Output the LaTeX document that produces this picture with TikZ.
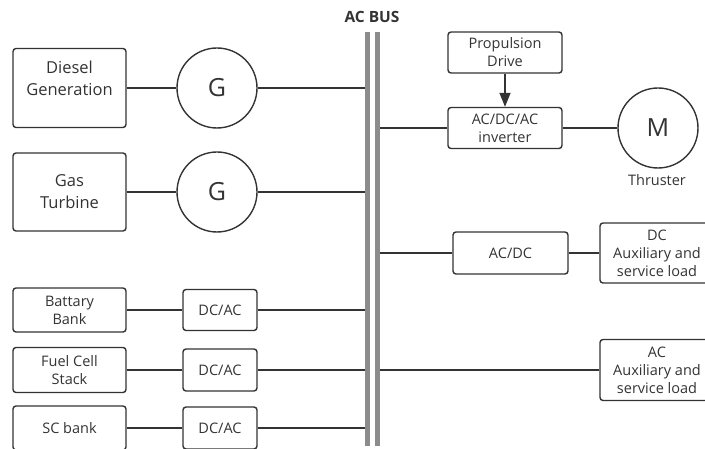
\documentclass[tikz,border=0pt]{standalone}
\usepackage{fontspec}
\setmainfont{Open Sans}
\usetikzlibrary{arrows.meta}
\definecolor{ink}{HTML}{333333}
\definecolor{busgray}{HTML}{8C8C8C}
\begin{document}
\begin{tikzpicture}[x=1pt,y=-1pt,
  every node/.style={text=ink},
  blk/.style={draw=ink,line width=1.4pt,rounded corners=3pt,align=center,inner sep=0pt,
    font=\fontsize{14.5}{18}\selectfont},
  bigblk/.style={blk,font=\fontsize{16.5}{22}\selectfont},
  mach/.style={draw=ink,line width=1.4pt,circle,minimum size=80pt,inner sep=0pt,
    font=\fontsize{25}{28}\selectfont},
  wire/.style={draw=ink,line width=1.4pt},
  busbar/.style={draw=busgray,line width=5pt}]
\useasboundingbox (0,0) rectangle (705,449);
\clip (0,0) rectangle (705,449);
% bus
\coordinate (b1t) at (367.5,32);
\coordinate (b1b) at (367.5,446);
\coordinate (b2t) at (377.5,32);
\coordinate (b2b) at (377.5,446);
\draw[busbar] (b1t) -- (b1b);
\draw[busbar] (b2t) -- (b2b);
\coordinate (busL) at (365,0);
\coordinate (busR) at (380,0);
\node[font=\bfseries\fontsize{15.5}{18}\selectfont] (title) at (372,17) {AC BUS};
% left sources
\node[bigblk,minimum width=113pt,minimum height=79pt,
  label={[yshift=10pt,align=center,text=ink,font=\fontsize{16.5}{22}\selectfont]center:Diesel\\Generation}] (diesel) at (69.5,88) {};
\node[mach] (g1) at (217,88) {G};
\node[bigblk,minimum width=113pt,minimum height=78pt] (gas) at (69.5,192) {Gas\\Turbine};
\node[mach] (g2) at (217,192) {G};
\node[blk,minimum width=113pt,minimum height=44pt] (bat) at (69.5,310) {Battary\\Bank};
\node[blk,minimum width=74pt,minimum height=41pt] (dcac1) at (220,310) {DC/AC};
\node[blk,minimum width=113pt,minimum height=45pt] (fuel) at (69.5,370) {Fuel Cell\\Stack};
\node[blk,minimum width=74pt,minimum height=42pt] (dcac2) at (220,370) {DC/AC};
\node[blk,minimum width=113pt,minimum height=44pt] (sc) at (69.5,428) {SC bank};
\node[blk,minimum width=74pt,minimum height=42pt] (dcac3) at (220,428) {DC/AC};
\draw[wire] (diesel) -- (g1);
\draw[wire] (g1) -- (g1.east -| busL);
\draw[wire] (gas) -- (g2);
\draw[wire] (g2) -- (g2.east -| busL);
\draw[wire] (bat) -- (dcac1);
\draw[wire] (dcac1) -- (dcac1.east -| busL);
\draw[wire] (fuel) -- (dcac2);
\draw[wire] (dcac2) -- (dcac2.east -| busL);
\draw[wire] (sc) -- (dcac3);
\draw[wire] (dcac3) -- (dcac3.east -| busL);
% right side
\node[blk,minimum width=114pt,minimum height=41pt] (prop) at (505,52.5) {Propulsion\\Drive};
\node[blk,minimum width=114pt,minimum height=41pt] (inv) at (505,128) {AC/DC/AC\\inverter};
\node[mach] (m) at (658,128) {M};
\node[font=\fontsize{14.5}{18}\selectfont] (thr) at (657,180) {Thruster};
\node[blk,minimum width=115pt,minimum height=42pt] (acdc) at (510.5,253) {AC/DC};
\node[blk,minimum width=114pt,minimum height=60pt] (dcload) at (657,253) {DC\\Auxiliary and\\service load};
\node[blk,minimum width=114pt,minimum height=61pt] (acload) at (657,370) {AC\\Auxiliary and\\service load};
\draw[wire,-{Triangle[length=14pt,width=11pt]}] (prop) -- (inv);
\draw[wire] (inv.west -| busR) -- (inv);
\draw[wire] (inv) -- (m);
\draw[wire] (acdc.west -| busR) -- (acdc);
\draw[wire] (acdc) -- (dcload);
\draw[wire] (acload.west -| busR) -- (acload);
\end{tikzpicture}
\end{document}
